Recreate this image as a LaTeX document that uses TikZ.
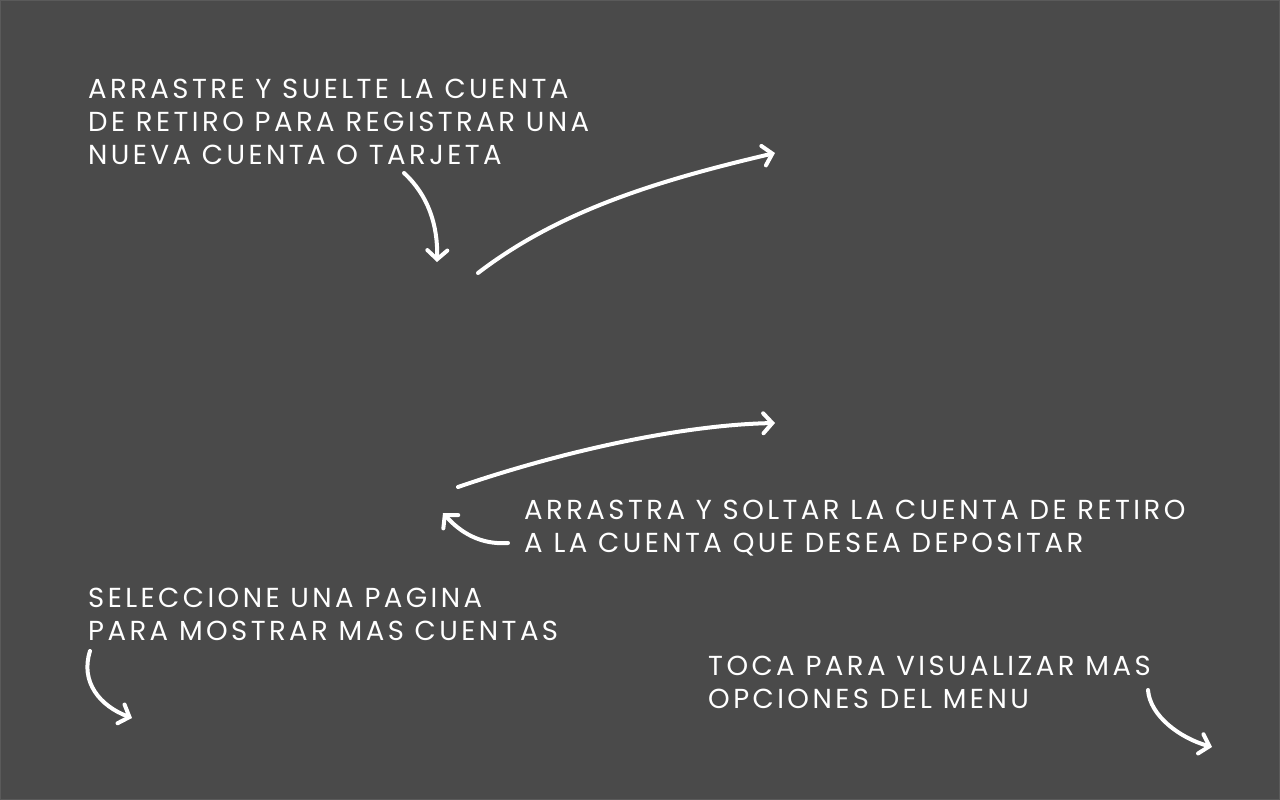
\documentclass[tikz,border=0pt]{standalone}
\usepackage{fontspec}
\setmainfont{Poppins}[LetterSpace=12.5]
\usetikzlibrary{arrows.meta}
\definecolor{pizarra}{HTML}{4A4A4A}
\definecolor{marco}{HTML}{5A5A5A}
\begin{document}
\begin{tikzpicture}[x=1pt,y=-1pt,
  nota/.style={anchor=north west,inner sep=0pt,align=left,text=white,
    font=\fontsize{27.5}{33}\selectfont},
  flecha/.style={draw=white,line width=4pt,line cap=round,
    -{Straight Barb[length=9pt,width=20pt,line cap=round]}}]
\fill[pizarra] (0,0) rectangle (1280,800);
\draw[marco,line width=1pt] (0.5,0.5) rectangle (1279.5,799.5);
% textos
\node[nota] (registrar) at (88,79) {ARRASTRE Y SUELTE LA CUENTA\\DE RETIRO PARA REGISTRAR UNA\\NUEVA CUENTA O TARJETA};
\node[nota] (depositar) at (524,500) {ARRASTRA Y SOLTAR LA CUENTA DE RETIRO\\A LA CUENTA QUE DESEA DEPOSITAR};
\node[nota] (pagina) at (88,588) {SELECCIONE UNA PAGINA\\PARA MOSTRAR MAS CUENTAS};
\node[nota] (menu) at (708,656) {TOCA PARA VISUALIZAR MAS\\OPCIONES DEL MENU};
% puntos de las flechas
\coordinate (a1) at (404,173);
\coordinate (a2) at (437,262);
\coordinate (b1) at (478,273);
\coordinate (b2) at (775,153);
\coordinate (c1) at (458,487);
\coordinate (c2) at (775,423);
\coordinate (d1) at (508,543);
\coordinate (d2) at (443,513);
\coordinate (e1) at (90,651);
\coordinate (e2) at (132,718);
\coordinate (f1) at (1148,690);
\coordinate (f2) at (1212,747);
% flechas
\draw[flecha] (a1) .. controls (428,195) and (438,225) .. (a2);
\draw[flecha] (b1) .. controls (560,210) and (660,180) .. (b2);
\draw[flecha] (c1) .. controls (560,452) and (680,425) .. (c2);
\draw[flecha] (d1) .. controls (480,545) and (460,532) .. (d2);
\draw[flecha] (e1) .. controls (80,682) and (100,706) .. (e2);
\draw[flecha] (f1) .. controls (1150,716) and (1180,738) .. (f2);
\end{tikzpicture}
\end{document}
